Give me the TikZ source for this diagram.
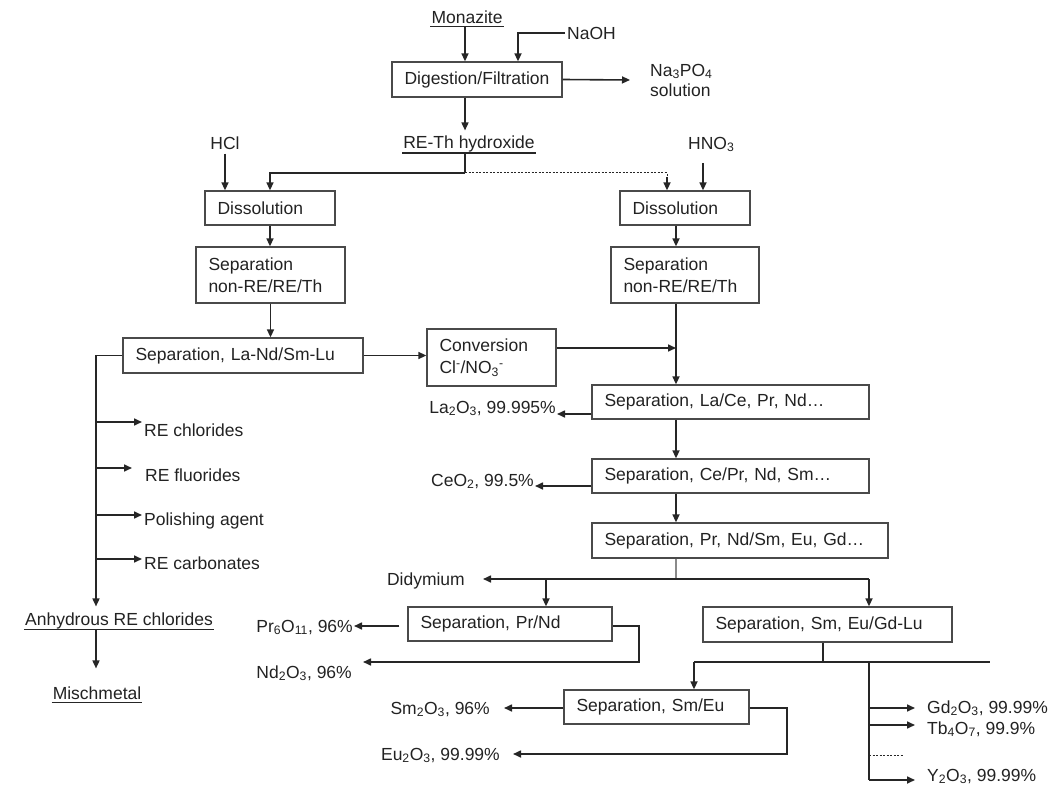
\documentclass[tikz,border=0pt]{standalone}
\usepackage{fontspec}
\setmainfont{Liberation Sans}
\usetikzlibrary{arrows.meta}
\definecolor{tx}{HTML}{222222}
\definecolor{lnc}{HTML}{262626}
\definecolor{bxc}{HTML}{4A4A4A}
\definecolor{grc}{HTML}{8A8A8A}
\begin{document}
\begin{tikzpicture}[x=1pt,y=-1pt,
  font=\fontsize{17.5}{22}\selectfont, text=tx,
  box/.style={draw=bxc, line width=1.3pt, inner xsep=12.5pt, inner ysep=0pt, align=left},
  lbl/.style={inner sep=0pt, text height=12.7pt, text depth=0pt},
  ln/.style={draw=lnc, line width=1.3pt},
  gry/.style={draw=grc, line width=1.3pt},
  arr/.style={draw=lnc, line width=1.6pt, -{Triangle[length=8pt,width=7pt]}},
  ulsty/.style={draw=lnc, line width=1.2pt},
  dots/.style={draw=lnc, line width=1pt, dash pattern=on 2pt off 1.5pt}
]
\useasboundingbox (0,0) rectangle (1062,786);

% ---------- nodes ----------
\node[lbl] (mon) at (467,17) {Monazite};
\node[lbl, anchor=west] (naoh) at (567,33) {NaOH};
\node[box, text width=145pt, minimum height=35pt] (dig) at (477,79.5) {Digestion/Filtration};
\node[inner sep=0pt, anchor=west, align=left, font=\fontsize{17.5}{20}\selectfont] (na) at (650,80) {Na\textsubscript{3}PO\textsubscript{4}\\solution};
\node[lbl] (reth) at (469,142) {RE-Th hydroxide};
\node[lbl] (hcl) at (225,143) {HCl};
\node[lbl, anchor=west] (hno) at (688,143) {HNO\textsubscript{3}};

\node[box, text width=105pt, minimum height=34pt] (dissL) at (270,208) {Dissolution};
\node[box, text width=105pt, minimum height=34pt] (dissR) at (685,208) {Dissolution};
\node[box, text width=124pt, minimum height=56pt] (sepL) at (270.5,275) {Separation\\non-RE/RE/Th};
\node[box, text width=123pt, minimum height=56pt] (sepR) at (685,275) {Separation\\non-RE/RE/Th};
\node[box, text width=215pt, minimum height=35pt] (laNd) at (243,355.5) {Separation, La-Nd/Sm-Lu};
\node[box, text width=104pt, minimum height=57pt] (conv) at (491.5,357.5) {Conversion\\Cl\textsuperscript{-}/NO\textsubscript{3}\textsuperscript{-}};
\node[box, text width=252pt, minimum height=34pt] (laCe) at (730.5,402) {Separation, La/Ce, Pr, Nd…};
\node[box, text width=252pt, minimum height=34pt] (cePr) at (730.5,476) {Separation, Ce/Pr, Nd, Sm…};
\node[box, text width=271pt, minimum height=35pt] (prNdSm) at (740,540.5) {Separation, Pr, Nd/Sm, Eu, Gd…};
\node[box, text width=179pt, minimum height=34pt] (prNd) at (510,624) {Separation, Pr/Nd};
\node[box, text width=224pt, minimum height=35pt] (smEu) at (827.5,624.5) {Separation, Sm, Eu/Gd-Lu};
\node[box, text width=160pt, minimum height=34pt] (smEuSep) at (656.5,707) {Separation, Sm/Eu};

\node[lbl, anchor=west] (rechl) at (144,430) {RE chlorides};
\node[lbl, anchor=west] (refl) at (145,475) {RE fluorides};
\node[lbl, anchor=west] (pol) at (144,519) {Polishing agent};
\node[lbl, anchor=west] (carb) at (144,563) {RE carbonates};
\node[lbl] (anh) at (119,619) {Anhydrous RE chlorides};
\node[lbl] (misch) at (97,693) {Mischmetal};

\node[lbl, anchor=east] (la) at (556,407) {La\textsubscript{2}O\textsubscript{3}, 99.995\%};
\node[lbl, anchor=east] (ce) at (534,480) {CeO\textsubscript{2}, 99.5\%};
\node[lbl, anchor=east] (didy) at (465,579) {Didymium};
\node[lbl, anchor=east] (pr6) at (353,626) {Pr\textsubscript{6}O\textsubscript{11}, 96\%};
\node[lbl, anchor=east] (nd) at (352,672) {Nd\textsubscript{2}O\textsubscript{3}, 96\%};
\node[lbl, anchor=east] (sm2) at (490,708) {Sm\textsubscript{2}O\textsubscript{3}, 96\%};
\node[lbl, anchor=east] (eu) at (500,754) {Eu\textsubscript{2}O\textsubscript{3}, 99.99\%};
\node[lbl, anchor=west] (gd) at (927,707) {Gd\textsubscript{2}O\textsubscript{3}, 99.99\%};
\node[lbl, anchor=west] (tb) at (927,728) {Tb\textsubscript{4}O\textsubscript{7}, 99.9\%};
\node[lbl, anchor=west] (y2) at (927,775) {Y\textsubscript{2}O\textsubscript{3}, 99.99\%};

% ---------- underlines ----------
\draw[ulsty] ([xshift=-1pt,yshift=-3pt]mon.base west) -- ([xshift=1pt,yshift=-3pt]mon.base east);
\draw[ulsty] ([xshift=-1pt,yshift=-4.7pt]reth.base west) -- ([xshift=1pt,yshift=-4.7pt]reth.base east);
\draw[ulsty] ([xshift=-1pt,yshift=-4.3pt]anh.base west) -- ([xshift=1pt,yshift=-4.3pt]anh.base east);
\draw[ulsty] ([xshift=-1pt,yshift=-3pt]misch.base west) -- ([xshift=1pt,yshift=-3pt]misch.base east);
\coordinate (monul) at ([yshift=-3pt]mon.base);
\coordinate (rethul) at ([yshift=-4.7pt]reth.base);
\coordinate (anhul) at ([yshift=-4.3pt]anh.base);

% ---------- connectors: top ----------
\coordinate (c1) at (465,0);
\draw[arr] (c1 |- monul) -- (c1 |- dig.north);
\coordinate (nc) at (518,33);
\draw[arr] ([xshift=-2pt]naoh.west) -- (nc) -- (nc |- dig.north);
\draw[arr] (dig.east) -- ([xshift=-20pt]na.west);
\draw[arr, shorten >=5pt] (c1 |- dig.south) -- (c1 |- reth.north);
\coordinate (split) at (465,173);
\draw[ln] (c1 |- rethul) -- (split);
\draw[arr] (split) -| (dissL.north);
\coordinate (dr) at (667,173);
\draw[dots] (split) -- (dr) -- ([yshift=-4pt]dr);
\draw[arr] ([yshift=-4pt]dr) -- (dr |- dissR.north);
\draw[arr] ([yshift=-4pt]hcl.south) -- (hcl.south |- dissL.north);
\coordinate (hn) at (703,163);
\draw[arr] (hn) -- (hn |- dissR.north);

% ---------- left column ----------
\draw[arr] (dissL.south) -- (dissL.south |- sepL.north);
\draw[arr] (sepL.south) -- (sepL.south |- laNd.north);
\draw[arr] (laNd.east) -- (laNd.east -| conv.west);
\coordinate (lv) at (96,355.5);
\draw[arr, shorten >=6pt] (laNd.west) -- (lv) -- (lv |- anh.north);
\coordinate (t1) at ([xshift=-2pt,yshift=8pt]rechl.west);
\coordinate (t2) at ([xshift=-13pt,yshift=7pt]refl.west);
\coordinate (t3) at ([xshift=-2pt,yshift=4pt]pol.west);
\coordinate (t4) at ([xshift=-2pt,yshift=4pt]carb.west);
\draw[arr] (lv |- t1) -- (t1);
\draw[arr] (lv |- t2) -- (t2);
\draw[arr] (lv |- t3) -- (t3);
\draw[arr] (lv |- t4) -- (t4);
\draw[arr, shorten >=18pt] (lv |- anhul) -- (lv |- misch.north);

% ---------- right column ----------
\coordinate (rc) at (676,0);
\draw[arr] (rc |- dissR.south) -- (rc |- sepR.north);
\draw[arr] (rc |- sepR.south) -- (rc |- laCe.north);
\coordinate (cv) at ([yshift=9.5pt]conv.east);
\draw[arr] (cv) -- (rc |- cv);
\draw[arr] (rc |- laCe.south) -- (rc |- cePr.north);
\draw[arr] (rc |- cePr.south) -- (rc |- prNdSm.north);
\draw[arr] ([yshift=-12pt]laCe.west) -- ([xshift=1pt,yshift=-7pt]la.east);
\draw[arr] ([yshift=-10pt]cePr.west) -- ([xshift=1pt,yshift=-6pt]ce.east);

\coordinate (sp2) at (676,579);
\coordinate (sp2l) at (546,579);
\coordinate (sp2r) at (869,579);
\draw[gry] (rc |- prNdSm.south) -- (sp2);
\draw[ln] (sp2) -- (sp2r);
\draw[arr] (sp2r) -- (sp2r |- smEu.north);
\draw[arr] (sp2) -- ([xshift=18pt]didy.east);
\draw[arr] (sp2l) -- (sp2l |- prNd.north);

\draw[arr, shorten <=8pt] ([yshift=-2pt]prNd.west) -- ([xshift=1pt]pr6.east);
\coordinate (ndc) at (639,662);
\draw[arr] ([yshift=-2pt]prNd.east) -| (ndc) -- ([xshift=11pt,yshift=10pt]nd.east);

\coordinate (sp3) at (823,662);
\coordinate (sp3l) at (694,662);
\coordinate (sp3r) at (990,662);
\draw[ln] (sp3 |- smEu.south) -- (sp3);
\draw[ln] (sp3l) -- (sp3r);
\draw[arr] (sp3l) -- (sp3l |- smEuSep.north);
\draw[arr] ([yshift=-1pt]smEuSep.west) -- ([xshift=14pt]sm2.east);
\coordinate (euc) at (787,754);
\draw[arr] ([yshift=-1pt]smEuSep.east) -| (euc) -- ([xshift=13pt]eu.east);

\coordinate (vt) at (869,662);
\coordinate (vb) at (869,780);
\draw[ln] (vt) -- (vb);
\coordinate (gdt) at ([xshift=-12pt,yshift=-1pt]gd.west);
\coordinate (tbt) at ([xshift=-12pt,yshift=3pt]tb.west);
\coordinate (yt) at ([xshift=-12pt,yshift=-5pt]y2.west);
\draw[arr] (vt |- gdt) -- (gdt);
\draw[arr] (vt |- tbt) -- (tbt);
\draw[arr] (vb) -- (yt);
\coordinate (dt) at (869,755);
\coordinate (dte) at (903,755);
\draw[dots] (dt) -- (dte);
\end{tikzpicture}
\end{document}
